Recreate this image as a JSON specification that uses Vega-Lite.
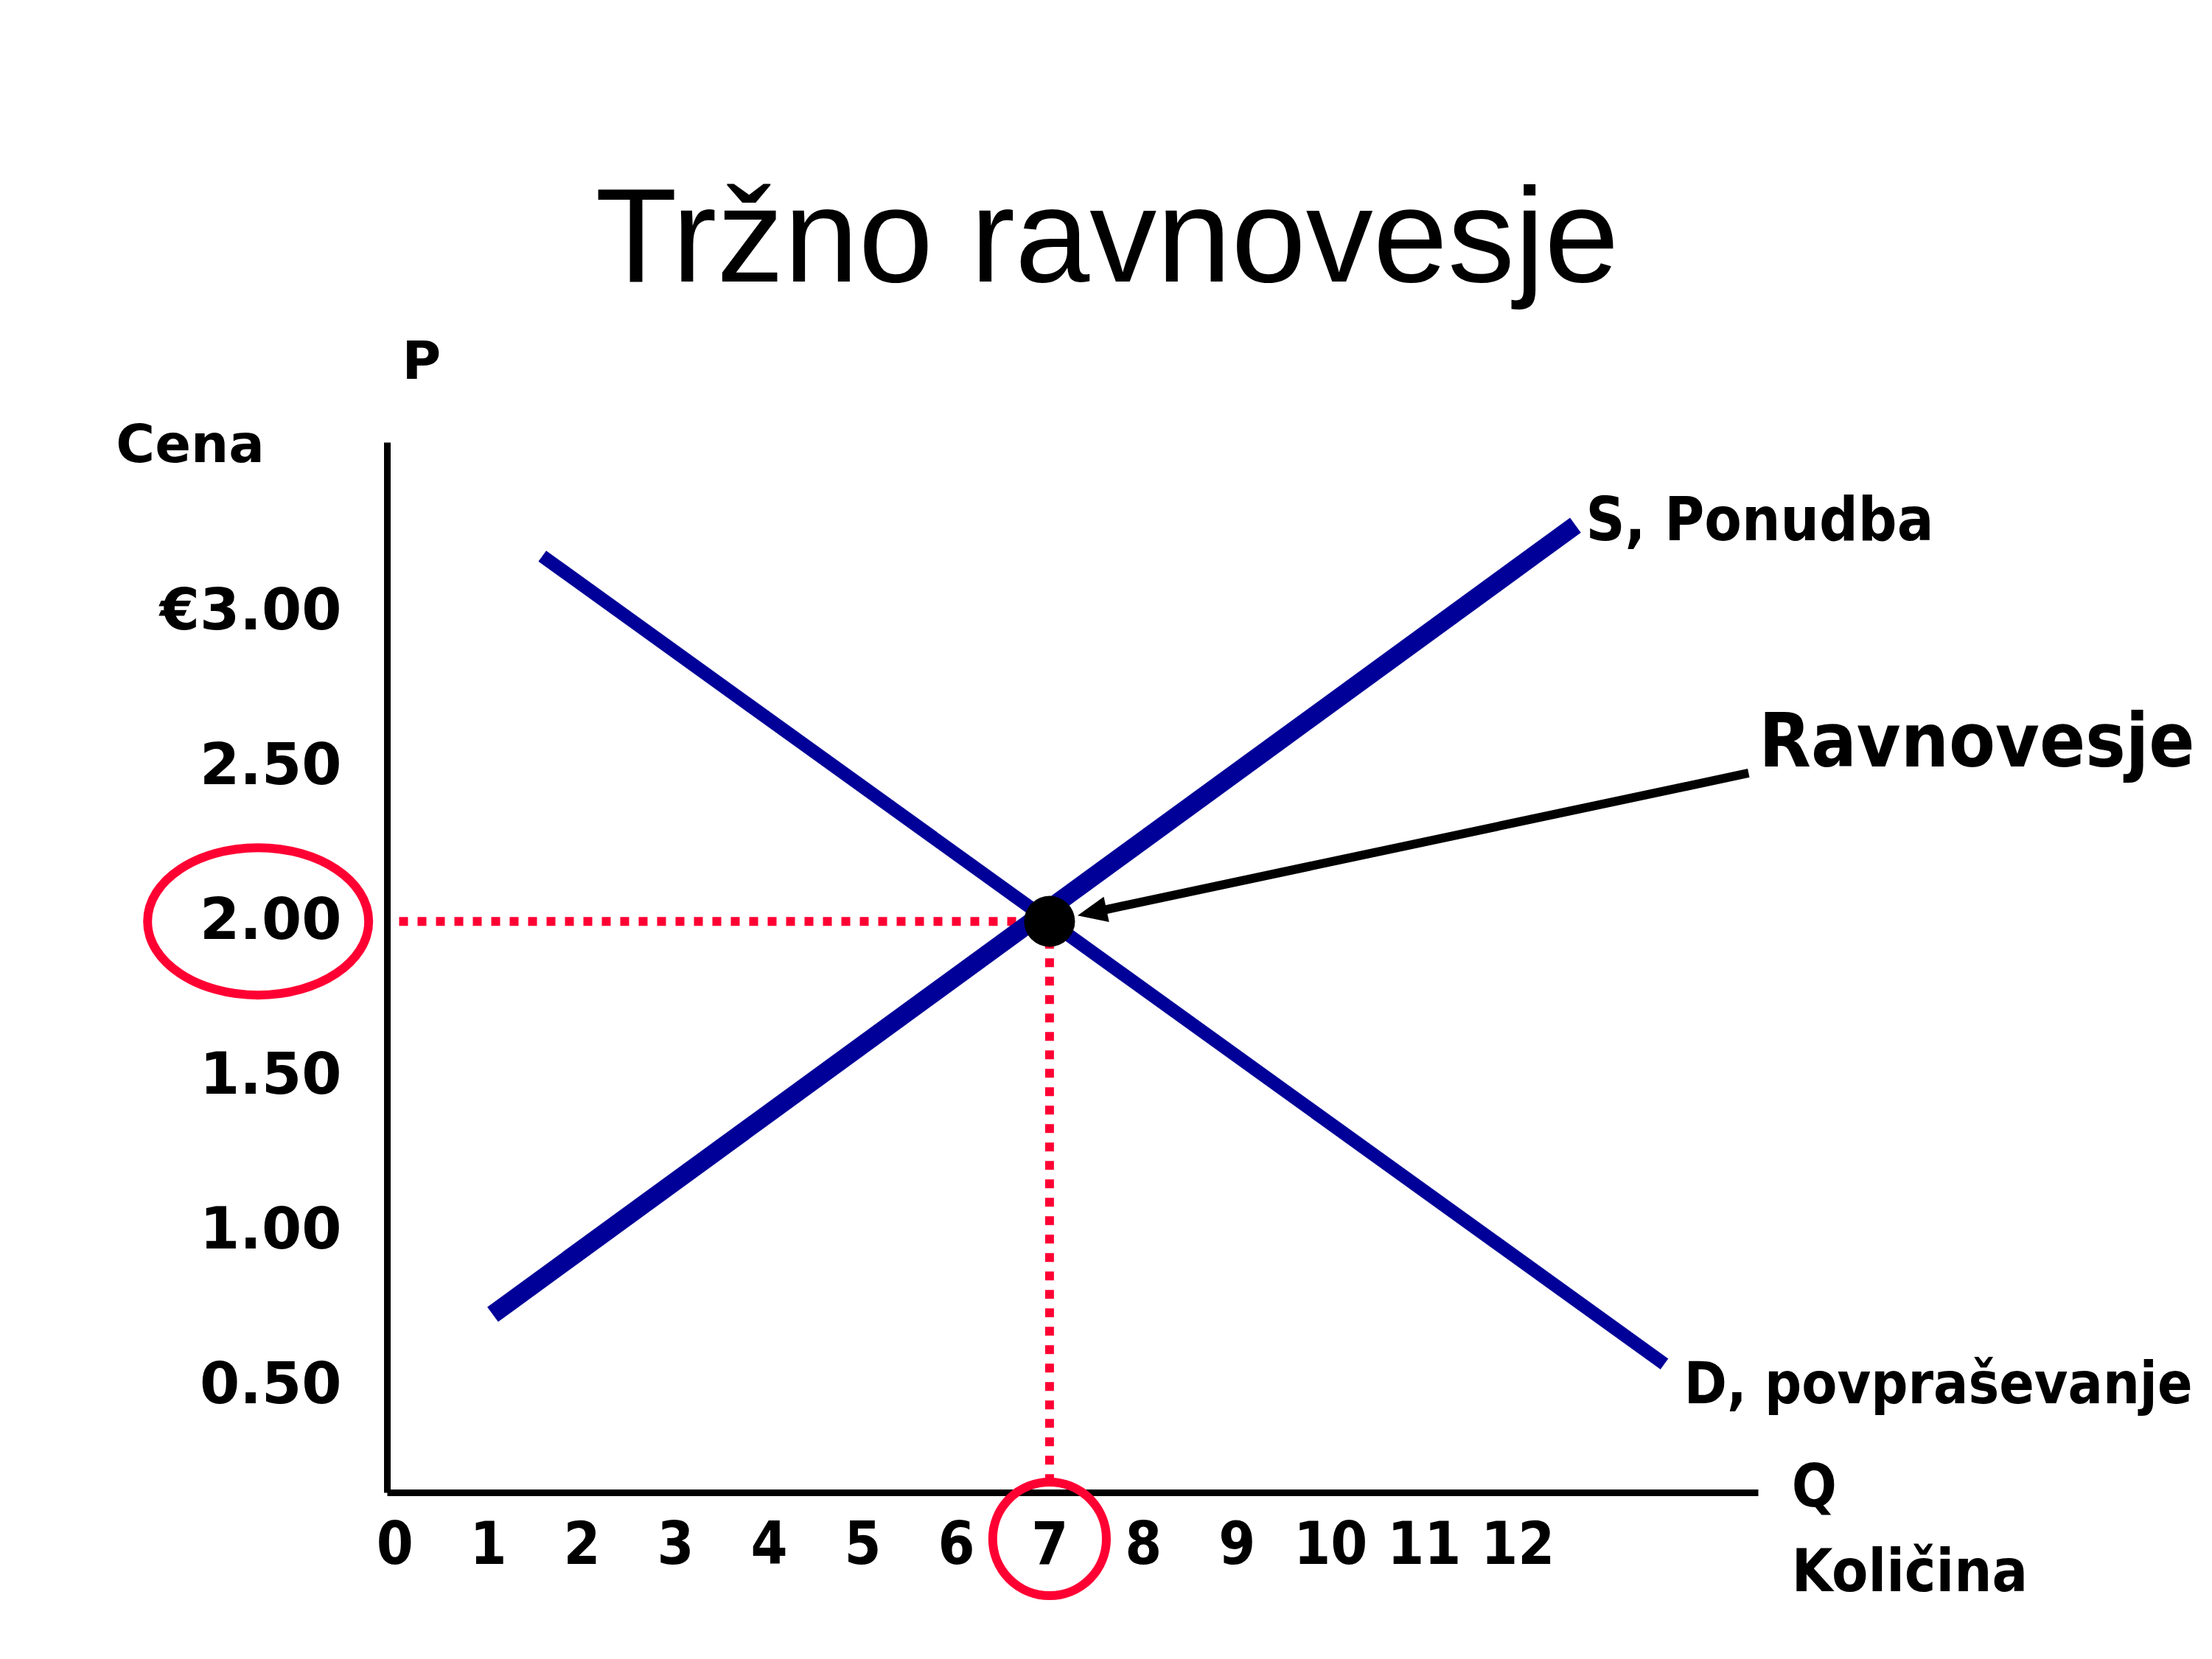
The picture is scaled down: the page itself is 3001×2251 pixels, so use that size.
{
  "$schema": "https://vega.github.io/schema/vega-lite/v6.json",
  "autosize": {"type": "none"},
  "width": 1860,
  "height": 1425,
  "padding": {"left": 525, "top": 600, "right": 616, "bottom": 226},
  "background": "white",
  "title": {
    "text": "Tržno ravnovesje",
    "font": "Liberation Sans",
    "fontSize": 182,
    "fontWeight": "normal",
    "color": "black",
    "anchor": "middle",
    "frame": "group",
    "dx": 47,
    "dy": 168,
    "baseline": "alphabetic",
    "offset": 60
  },
  "config": {
    "view": {"stroke": null},
    "axis": {"grid": false}
  },
  "layer": [
    {
      "data": {"values": [
        {"q": 0.05, "q2": 7, "p": 2, "p2": 2},
        {"q": 7, "q2": 7, "p": 2, "p2": 0.16}
      ]},
      "mark": {"type": "rule", "color": "#FF0033", "strokeWidth": 12, "strokeDash": [12, 13], "strokeCap": "butt"},
      "encoding": {
        "x": {"field": "q", "type": "quantitative",
          "scale": {"domain": [-0.08, 14.57], "nice": false, "zero": false},
          "axis": {"values": [0,1,2,3,4,5,6,7,8,9,10,11,12], "title": null, "domainColor": "black", "domainWidth": 9, "ticks": false, "tickSize": 0,
            "labelFont": "DejaVu Sans Condensed, DejaVu Sans", "labelFontWeight": "bold", "labelFontSize": 80, "labelColor": "black",
            "labelPadding": 33, "labelFlush": false, "labelOverlap": false, "labelBound": false, "labelLimit": 0, "format": "d"}},
        "x2": {"field": "q2"},
        "y": {"field": "p", "type": "quantitative",
          "scale": {"domain": [0.155, 3.548], "nice": false, "zero": false},
          "axis": {"values": [0.5, 1, 1.5, 2, 2.5, 3], "title": null, "domainColor": "black", "domainWidth": 9, "ticks": false, "tickSize": 0,
            "labelFont": "DejaVu Sans", "labelFontWeight": "bold", "labelFontSize": 78, "labelColor": "black",
            "labelPadding": 62, "labelOverlap": false, "labelBound": false, "labelFlush": false, "labelLimit": 0,
            "labelExpr": "datum.value === 3 ? '€3.00' : format(datum.value, '.2f')"}},
        "y2": {"field": "p2"}
      }
    },
    {
      "data": {"values": [
        {"curve": "S", "q": 1.05, "p": 0.73},
        {"curve": "S", "q": 12.62, "p": 3.28},
        {"curve": "D", "q": 1.58, "p": 3.18},
        {"curve": "D", "q": 13.57, "p": 0.57}
      ]},
      "mark": {"type": "line", "color": "#000099", "strokeCap": "butt"},
      "encoding": {
        "x": {"field": "q", "type": "quantitative"},
        "y": {"field": "p", "type": "quantitative"},
        "detail": {"field": "curve"},
        "strokeWidth": {"field": "curve", "type": "nominal", "scale": {"domain": ["S", "D"], "range": [25, 18]}, "legend": null}
      }
    },
    {
      "data": {"values": [
        {"q": 7.57, "p": 2.036},
        {"q": 14.47, "p": 2.479}
      ]},
      "mark": {"type": "line", "color": "black", "strokeWidth": 12, "strokeCap": "butt"},
      "encoding": {
        "x": {"field": "q", "type": "quantitative"},
        "y": {"field": "p", "type": "quantitative"}
      }
    },
    {
      "data": {"values": [{"q": 7.30, "p": 2.019}]},
      "mark": {"type": "point", "shape": "M0,0L2,-0.875L2,0.875Z", "size": 1600, "angle": 348.1, "filled": true, "color": "black", "opacity": 1, "strokeWidth": 0},
      "encoding": {
        "x": {"field": "q", "type": "quantitative"},
        "y": {"field": "p", "type": "quantitative"}
      }
    },
    {
      "data": {"values": [{"q": 7, "p": 2}]},
      "mark": {"type": "point", "shape": "circle", "size": 4778, "filled": true, "color": "black", "opacity": 1},
      "encoding": {
        "x": {"field": "q", "type": "quantitative"},
        "y": {"field": "p", "type": "quantitative"}
      }
    },
    {
      "data": {"values": [{"q": -1.457, "p": 2}]},
      "mark": {"type": "point", "shape": "M-1,0C-1,-0.3682,-0.5523,-0.6667,0,-0.6667C0.5523,-0.6667,1,-0.3682,1,0C1,0.3682,0.5523,0.6667,0,0.6667C-0.5523,0.6667,-1,0.3682,-1,0Z", "size": 90000, "filled": false, "color": "#FF0033", "strokeWidth": 12, "opacity": 1},
      "encoding": {
        "x": {"field": "q", "type": "quantitative"},
        "y": {"field": "p", "type": "quantitative"}
      }
    },
    {
      "data": {"values": [{"q": 7, "p": 0.005}]},
      "mark": {"type": "point", "shape": "circle", "size": 23779, "filled": false, "color": "#FF0033", "strokeWidth": 12, "opacity": 1},
      "encoding": {
        "x": {"field": "q", "type": "quantitative"},
        "y": {"field": "p", "type": "quantitative"}
      }
    },
    {
      "data": {"values": [
        {"label": "S, Ponudba", "q": 12.73, "p": 3.231}
      ]},
      "mark": {"type": "text", "font": "DejaVu Sans Condensed, DejaVu Sans", "fontWeight": "bold", "fontSize": 82, "align": "left", "baseline": "alphabetic", "color": "black"},
      "encoding": {
        "x": {"field": "q", "type": "quantitative"},
        "y": {"field": "p", "type": "quantitative"},
        "text": {"field": "label"}
      }
    },
    {
      "data": {"values": [
        {"label": "D, povpraševanje", "q": 13.78, "p": 0.443}
      ]},
      "mark": {"type": "text", "font": "DejaVu Sans Condensed, DejaVu Sans", "fontWeight": "bold", "fontSize": 78, "align": "left", "baseline": "alphabetic", "color": "black"},
      "encoding": {
        "x": {"field": "q", "type": "quantitative"},
        "y": {"field": "p", "type": "quantitative"},
        "text": {"field": "label"}
      }
    },
    {
      "data": {"values": [
        {"label": "Q", "q": 14.93, "p": 0.11},
        {"label": "Količina", "q": 14.93, "p": -0.164}
      ]},
      "mark": {"type": "text", "font": "DejaVu Sans Condensed, DejaVu Sans", "fontWeight": "bold", "fontSize": 80, "align": "left", "baseline": "alphabetic", "color": "black"},
      "encoding": {
        "x": {"field": "q", "type": "quantitative"},
        "y": {"field": "p", "type": "quantitative"},
        "text": {"field": "label"}
      }
    },
    {
      "data": {"values": [
        {"label": "Ravnovesje", "q": 14.58, "p": 2.5}
      ]},
      "mark": {"type": "text", "font": "DejaVu Sans Condensed, DejaVu Sans", "fontWeight": "bold", "fontSize": 102, "align": "left", "baseline": "alphabetic", "color": "black"},
      "encoding": {
        "x": {"field": "q", "type": "quantitative"},
        "y": {"field": "p", "type": "quantitative"},
        "text": {"field": "label"}
      }
    },
    {
      "data": {"values": [
        {"label": "P", "q": 0.29, "p": 3.752, "al": "center"},
        {"label": "Cena", "q": -2.976, "p": 3.483, "al": "left"}
      ]},
      "mark": {"type": "text", "font": "DejaVu Sans", "fontWeight": "bold", "fontSize": 72, "align": {"expr": "datum.al"}, "baseline": "alphabetic", "color": "black"},
      "encoding": {
        "x": {"field": "q", "type": "quantitative"},
        "y": {"field": "p", "type": "quantitative"},
        "text": {"field": "label"}
      }
    }
  ]
}
